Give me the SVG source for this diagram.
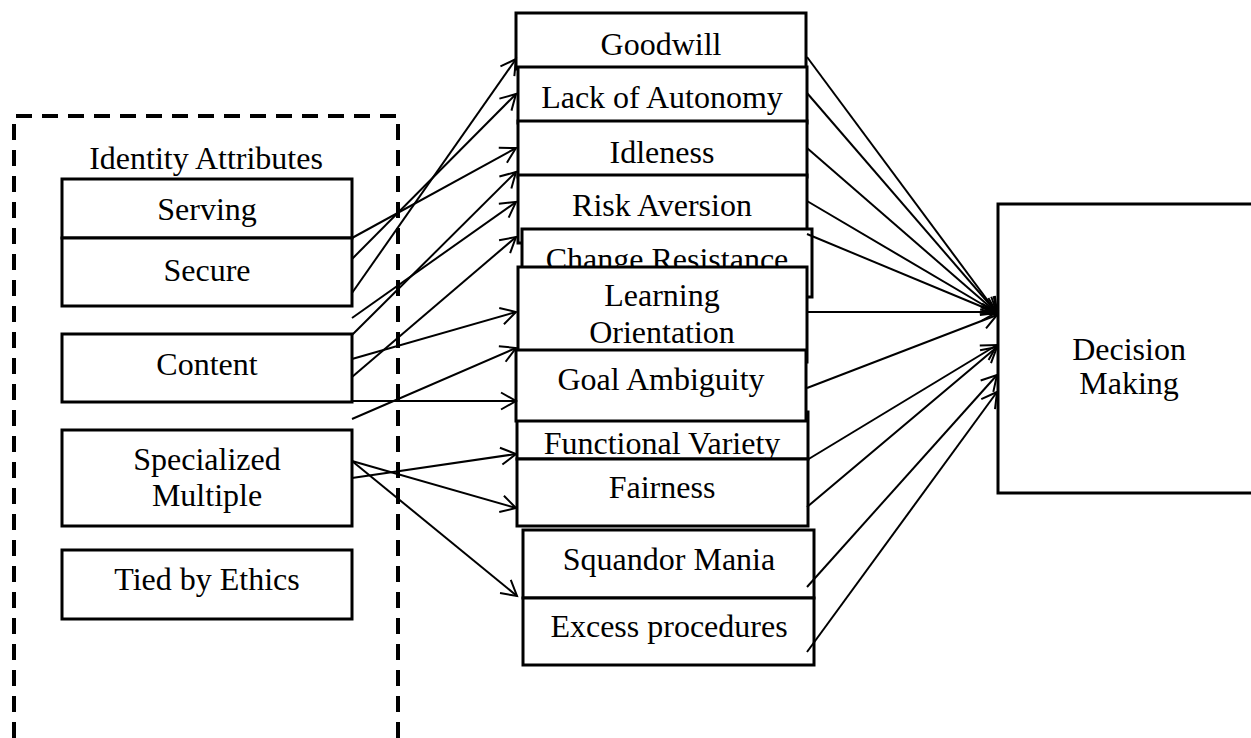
<svg xmlns="http://www.w3.org/2000/svg" width="1251" height="738" viewBox="0 0 1251 738">
  <style>
    .box { fill: #fff; stroke: #000; stroke-width: 3; }
    .lbl { font-family: "Liberation Serif", "Times New Roman", serif; font-size: 32px; fill: #000; text-anchor: middle; }
    .conn { stroke: #000; stroke-width: 2; fill: none; marker-end: url(#arrow); }
    .frame { fill: none; stroke: #000; stroke-width: 4; stroke-dasharray: 16 10; }
  </style>
  <defs>
    <marker id="arrow" markerUnits="userSpaceOnUse" markerWidth="20" markerHeight="20" viewBox="0 0 20 20" refX="17" refY="10" orient="auto">
      <path d="M2,1.5 L17,10 L2,18.5" fill="none" stroke="#000" stroke-width="2"/>
    </marker>
  </defs>
  <rect width="1251" height="738" fill="#fff"/>

  <!-- identity attributes frame -->
  <g id="identity-attributes">
    <path class="frame" d="M14,738 V116 H398 V738"/>
    <text class="lbl" x="206" y="169">Identity Attributes</text>
  </g>

  <!-- left column -->
  <g id="serving">
    <rect class="box" x="62" y="179" width="290" height="59"/>
    <text class="lbl" x="207" y="220">Serving</text>
  </g>
  <g id="secure">
    <rect class="box" x="62" y="238" width="290" height="68"/>
    <text class="lbl" x="207" y="281">Secure</text>
  </g>
  <g id="content">
    <rect class="box" x="62" y="334" width="290" height="68"/>
    <text class="lbl" x="207" y="375">Content</text>
  </g>
  <g id="specialized-multiple">
    <rect class="box" x="62" y="430" width="290" height="96"/>
    <text class="lbl" x="207" y="470">Specialized</text>
    <text class="lbl" x="207" y="506">Multiple</text>
  </g>
  <g id="tied-by-ethics">
    <rect class="box" x="62" y="550" width="290" height="69"/>
    <text class="lbl" x="207" y="590">Tied by Ethics</text>
  </g>

  <!-- middle column -->
  <g id="goodwill">
    <rect class="box" x="516" y="13" width="290" height="56"/>
    <text class="lbl" x="661" y="55">Goodwill</text>
  </g>
  <g id="lack-of-autonomy">
    <rect class="box" x="518" y="67" width="289" height="56"/>
    <text class="lbl" x="662" y="108">Lack of Autonomy</text>
  </g>
  <g id="idleness">
    <rect class="box" x="518" y="121" width="289" height="56"/>
    <text class="lbl" x="662" y="163">Idleness</text>
  </g>
  <g id="risk-aversion">
    <rect class="box" x="518" y="175" width="289" height="68"/>
    <text class="lbl" x="662" y="216">Risk Aversion</text>
  </g>
  <g id="change-resistance">
    <rect class="box" x="522" y="229" width="290" height="68"/>
    <text class="lbl" x="667" y="270">Change Resistance</text>
  </g>
  <g id="learning-orientation">
    <rect class="box" x="518" y="267" width="289" height="95"/>
    <text class="lbl" x="662" y="306">Learning</text>
    <text class="lbl" x="662" y="343">Orientation</text>
  </g>
  <g id="functional-variety">
    <rect class="box" x="517" y="412" width="291" height="47"/>
    <text class="lbl" x="662" y="454">Functional Variety</text>
  </g>
  <g id="fairness">
    <rect class="box" x="517" y="459" width="291" height="67"/>
    <text class="lbl" x="662" y="498">Fairness</text>
  </g>
  <g id="goal-ambiguity">
    <rect class="box" x="516" y="350" width="290" height="71"/>
    <text class="lbl" x="661" y="390">Goal Ambiguity</text>
  </g>
  <g id="squandor-mania">
    <rect class="box" x="523" y="530" width="291" height="68"/>
    <text class="lbl" x="669" y="570">Squandor Mania</text>
  </g>
  <g id="excess-procedures">
    <rect class="box" x="523" y="598" width="291" height="67"/>
    <text class="lbl" x="669" y="637">Excess procedures</text>
  </g>

  <!-- right -->
  <g id="decision-making">
    <rect class="box" x="998" y="204" width="264" height="289"/>
    <text class="lbl" x="1129" y="360">Decision</text>
    <text class="lbl" x="1129" y="394">Making</text>
  </g>

  <!-- connectors -->
  <g id="connectors">
    <line class="conn" x1="352" y1="293" x2="516" y2="59"/>
    <line class="conn" x1="352" y1="259" x2="516" y2="94"/>
    <line class="conn" x1="352" y1="238" x2="516" y2="148"/>
    <line class="conn" x1="352" y1="335" x2="516" y2="172"/>
    <line class="conn" x1="352" y1="318" x2="516" y2="202"/>
    <line class="conn" x1="352" y1="377" x2="516" y2="237"/>
    <line class="conn" x1="352" y1="359" x2="516" y2="312"/>
    <line class="conn" x1="352" y1="419" x2="516" y2="348"/>
    <line class="conn" x1="352" y1="401" x2="516" y2="401"/>
    <line class="conn" x1="352" y1="478" x2="516" y2="454"/>
    <line class="conn" x1="352" y1="461" x2="516" y2="508"/>
    <line class="conn" x1="352" y1="461" x2="517" y2="596"/>

    <line class="conn" x1="807" y1="57" x2="997" y2="313"/>
    <line class="conn" x1="807" y1="93" x2="997" y2="313"/>
    <line class="conn" x1="807" y1="148" x2="997" y2="313"/>
    <line class="conn" x1="807" y1="201" x2="997" y2="313"/>
    <line class="conn" x1="807" y1="234" x2="997" y2="313"/>
    <line class="conn" x1="807" y1="312" x2="997" y2="312"/>
    <line class="conn" x1="807" y1="388" x2="997" y2="315"/>
    <line class="conn" x1="807" y1="460" x2="997" y2="345"/>
    <line class="conn" x1="807" y1="507" x2="997" y2="347"/>
    <line class="conn" x1="807" y1="587" x2="997" y2="375"/>
    <line class="conn" x1="807" y1="652" x2="997" y2="392"/>
  </g>
</svg>
